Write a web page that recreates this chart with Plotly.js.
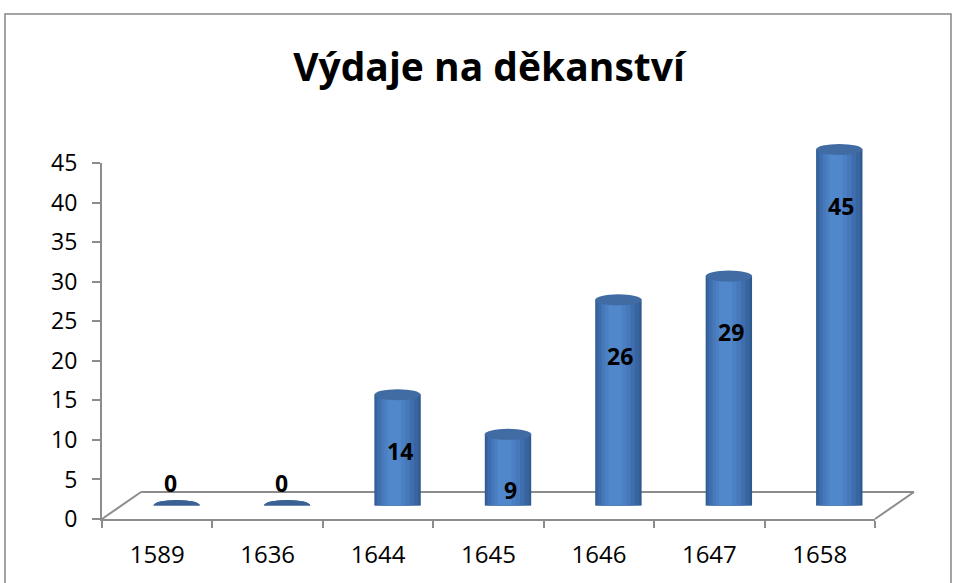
<!DOCTYPE html>
<html>
<head>
<meta charset="utf-8">
<script src="https://cdn.plot.ly/plotly-3.0.1.min.js"></script>
<style>
  html, body { margin: 0; padding: 0; background: #ffffff; }
  #chart { width: 955px; height: 583px; }
</style>
</head>
<body>
<div id="chart"></div>
<script>
// ---- data ----
const years = ['1589', '1636', '1644', '1645', '1646', '1647', '1658'];
const values = [0, 0, 14, 9, 26, 29, 45];
const yTicks = [0, 5, 10, 15, 20, 25, 30, 35, 40, 45];
const chartTitle = 'Výdaje na děkanství';

// ---- geometry (pixels) ----
const W = 955, H = 583;
const mL = 102, mR = 20, mT = 100, mB = 64;
const plotW = W - mL - mR;           // 833
const plotH = H - mT - mB;           // 419
const axisLen = 773;                 // front x-axis length
const valLen = 356;                  // y axis length 0..45
const depthX = 39, depthY = 27;      // floor depth
const pxPerUnit = valLen / 45;

const idx = years.map((_, i) => i);

// cylinder shading layers (offset, width in category units)
const shades = [
  { off: -0.21, w: 0.42, c: '#2f5a90' },
  { off: -0.20, w: 0.39, c: '#3864a0' },
  { off: -0.18, w: 0.33, c: '#3f6eae' },
  { off: -0.15, w: 0.26, c: '#4678ba' },
  { off: -0.12, w: 0.19, c: '#4c80c4' },
  { off: -0.09, w: 0.12, c: '#5187cb' }
];
const halfW = 0.21;
const ellH = 5.5 / pxPerUnit;

const traces = [];
// invisible trace to define main category axis
traces.push({
  type: 'scatter', x: years, y: values, xaxis: 'x', yaxis: 'y',
  mode: 'markers', marker: { opacity: 0 }, hoverinfo: 'skip', showlegend: false
});
shades.forEach(s => {
  traces.push({
    type: 'bar', x: idx, y: values, xaxis: 'x2', yaxis: 'y2',
    width: s.w, offset: s.off,
    marker: { color: s.c, line: { width: 0 } },
    hoverinfo: 'skip', showlegend: false
  });
});

const px2paperX = p => (p - mL) / plotW;
const px2paperY = p => (H - mB - p) / plotH;

const shapes = [];
// chart border
shapes.push({
  type: 'rect', xref: 'paper', yref: 'paper',
  x0: px2paperX(5), x1: px2paperX(951), y0: px2paperY(14), y1: px2paperY(620),
  line: { color: '#878787', width: 1.5 }, fillcolor: 'rgba(0,0,0,0)', layer: 'below'
});
// floor
const fx0 = mL, fx1 = mL + axisLen, fy = H - mB;
const floorLines = [
  [fx0, fy, fx0 + depthX, fy - depthY],
  [fx0 + depthX, fy - depthY, fx1 + depthX, fy - depthY],
  [fx1, fy, fx1 + depthX, fy - depthY]
];
floorLines.forEach(l => shapes.push({
  type: 'line', xref: 'paper', yref: 'paper',
  x0: px2paperX(l[0]), y0: px2paperY(l[1]), x1: px2paperX(l[2]), y1: px2paperY(l[3]),
  line: { color: '#8c8c8c', width: 2 }, layer: 'below'
}));
// cylinder bottoms and tops
idx.forEach((i, k) => {
  shapes.push({
    type: 'circle', xref: 'x2', yref: 'y2',
    x0: i - halfW, x1: i + halfW, y0: -ellH, y1: ellH,
    fillcolor: '#3a66a0', line: { width: 0 }, layer: 'below'
  });
  shapes.push({
    type: 'circle', xref: 'x2', yref: 'y2',
    x0: i - halfW, x1: i + halfW, y0: values[k] - ellH, y1: values[k] + ellH,
    fillcolor: values[k] === 0 ? '#3a6294' : '#406ba3', line: { width: 0 }, layer: 'above'
  });
});

// data labels
const annotations = idx.map((i, k) => ({
  x: i, y: values[k], xref: 'x2', yref: 'y2',
  text: '<b>' + values[k] + '</b>', showarrow: false,
  xshift: values[k] === 0 ? -6 : 2,
  yshift: values[k] === 0 ? 23 : -56,
  font: { family: 'Open Sans, sans-serif', size: 23, color: '#000000' }
}));

const xFont = { family: 'Open Sans, sans-serif', size: 24, color: '#000000' };
const yFont = { family: 'Open Sans, sans-serif', size: 23, color: '#000000' };

const layout = {
  width: W, height: H,
  margin: { l: mL, r: mR, t: mT, b: mB, pad: 0 },
  paper_bgcolor: '#ffffff', plot_bgcolor: 'rgba(0,0,0,0)',
  showlegend: false,
  barmode: 'overlay',
  title: {
    text: '<b>' + chartTitle + '</b>',
    x: 489 / W, xanchor: 'center', xref: 'container',
    y: 1 - 67 / H, yanchor: 'middle', yref: 'container',
    font: { family: 'Open Sans, sans-serif', size: 39, color: '#000000' }
  },
  xaxis: {
    type: 'category', categoryorder: 'array', categoryarray: years,
    domain: [0, axisLen / plotW], anchor: 'y',
    range: [-0.5, years.length - 0.5],
    showline: true, linecolor: '#8c8c8c', linewidth: 2,
    ticks: 'outside', tickson: 'boundaries', ticklen: 7, tickcolor: '#8c8c8c', tickwidth: 2,
    showgrid: false, zeroline: false, tickfont: xFont, ticklabelstandoff: 13,
    fixedrange: true
  },
  yaxis: {
    domain: [0, valLen / plotH], anchor: 'x',
    range: [0, 45], tickvals: yTicks,
    showline: true, linecolor: '#8c8c8c', linewidth: 2,
    ticks: 'outside', ticklen: 8, tickcolor: '#8c8c8c', tickwidth: 2,
    showgrid: false, zeroline: false, tickfont: yFont, ticklabelstandoff: 10,
    fixedrange: true
  },
  xaxis2: {
    domain: [(depthX / 2) / plotW, (depthX / 2 + axisLen) / plotW], anchor: 'y2',
    range: [-0.5, years.length - 0.5], visible: false, fixedrange: true
  },
  yaxis2: {
    domain: [(depthY / 2) / plotH, 1], anchor: 'x2',
    range: [0, (plotH - depthY / 2) / pxPerUnit], visible: false, fixedrange: true
  },
  shapes: shapes,
  annotations: annotations
};

Plotly.newPlot('chart', traces, layout, { staticPlot: true, displayModeBar: false });
</script>
</body>
</html>
